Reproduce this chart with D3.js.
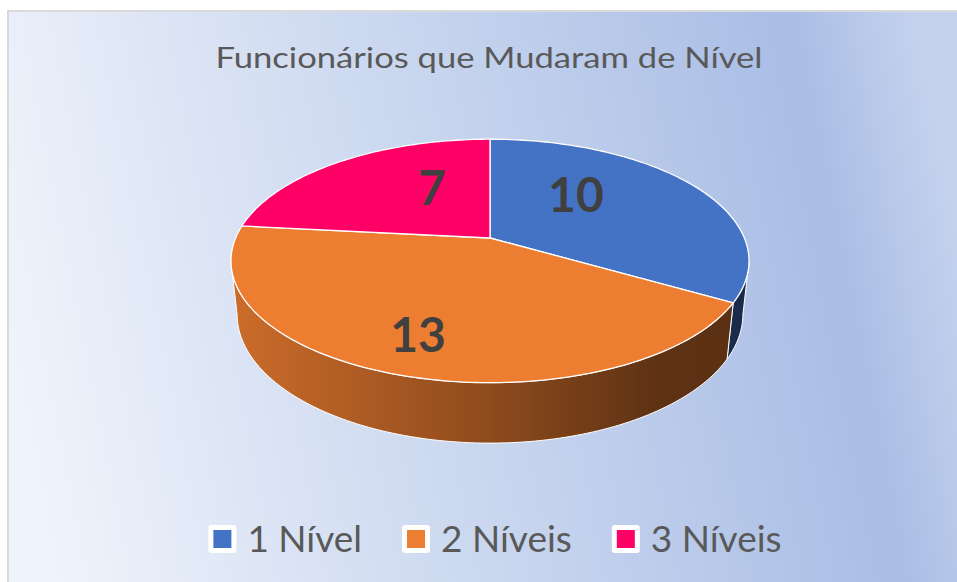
<!DOCTYPE html>
<html>
<head>
<meta charset="utf-8">
<script src="https://cdn.jsdelivr.net/npm/d3@7"></script>
<style>
  html, body { margin: 0; padding: 0; background: #fff; }
  svg { display: block; }
</style>
</head>
<body>
<svg id="chart" width="957" height="582"></svg>
<script>
// chart data
const title = "Funcionários que Mudaram de Nível";
const categories = ["1 Nível", "2 Níveis", "3 Níveis"];
const values = [10, 13, 7];
const colors = ["#4472C4", "#ED7D31", "#FF0066"];

// where each value label sits on the pie top (angle in degrees clockwise from top, radius fraction)
const labelSpots = [[42.7, 0.535], [198.9, 0.755], [331.8, 0.525]];

const width = 957, height = 582;
const svg = d3.select("svg#chart");
svg.selectAll("*").remove();

const defs = svg.append("defs");

// background gradient, like the office "light blue" fill
const bg = defs.append("linearGradient")
    .attr("id", "bgGrad")
    .attr("x1", 0).attr("y1", 0.56).attr("x2", 1).attr("y2", 0.44);
[[0, "#eff3fb"], [0.45, "#cad7ef"], [0.87, "#a9bde5"], [1, "#c4d2ed"]].forEach(([o, c]) =>
    bg.append("stop").attr("offset", o).attr("stop-color", c));

svg.append("rect")
    .attr("x", 8).attr("y", 11)
    .attr("width", width).attr("height", height)
    .attr("fill", "url(#bgGrad)")
    .attr("stroke", "#d9d9d9")
    .attr("stroke-width", 2);

// title
svg.append("text")
    .attr("x", 489).attr("y", 68)
    .attr("text-anchor", "middle")
    .attr("font-family", "Lato, 'Open Sans', sans-serif")
    .attr("font-size", 28)
    .attr("textLength", 547)
    .attr("lengthAdjust", "spacingAndGlyphs")
    .attr("fill", "#595959")
    .text(title);

// --- 3D pie projection ---
const cx = 490, cy = 238;
const focal = 1197;     // px per unit of camera distance
const radius = 0.2125;  // disk radius / camera distance
const tilt = Math.asin(0.4616);
const thick = 0.0507;   // disk thickness / camera distance
const sinT = Math.sin(tilt), cosT = Math.cos(tilt);

// a = angle clockwise from the far side, r = radius, h = height (0 top, negative down)
function project(a, r, h) {
    const u = r * Math.sin(a), v = r * Math.cos(a);
    const depth = 1 + v * cosT - h * sinT;
    return [cx + focal * u / depth, cy - focal * (h * cosT + v * sinT) / depth];
}

const pie = d3.pie().sort(null).value(d => d);
const arcs = pie(values);
const line = d3.line();

function arcPoints(a0, a1, r, h) {
    const n = Math.max(2, Math.ceil((a1 - a0) / 0.02));
    return d3.range(n + 1).map(i => project(a0 + (a1 - a0) * i / n, r, h));
}

function shade(c, f) {
    const col = d3.rgb(c);
    return d3.rgb(col.r * f, col.g * f, col.b * f).formatHex();
}

// side wall gradients
colors.forEach((c, i) => {
    const g = defs.append("linearGradient")
        .attr("id", "side" + i)
        .attr("gradientUnits", "userSpaceOnUse")
        .attr("x1", 231).attr("y1", 0).attr("x2", 749).attr("y2", 0);
    [[0, 0.86], [0.5, 0.6], [0.82, 0.4], [1, 0.38]].forEach(([o, f]) =>
        g.append("stop").attr("offset", o).attr("stop-color", shade(c, f)));
});

// visible front wall range (silhouette angles)
const aS = Math.acos(-radius * cosT);
const aE = 2 * Math.PI - aS;

const walls = arcs.map((d, i) => {
    const a0 = Math.max(d.startAngle, aS), a1 = Math.min(d.endAngle, aE);
    if (a1 <= a0) return null;
    const top = arcPoints(a0, a1, radius, 0);
    const bot = arcPoints(a0, a1, radius, -thick).reverse();
    return { i, pts: top.concat(bot) };
}).filter(Boolean);

svg.append("g").selectAll("path").data(walls)
    .join("path")
    .attr("d", d => line(d.pts) + "Z")
    .attr("fill", d => `url(#side${d.i})`)
    .attr("stroke", "#ffffff")
    .attr("stroke-width", 1)
    .attr("stroke-linejoin", "round");

// top faces
svg.append("g").selectAll("path").data(arcs)
    .join("path")
    .attr("d", d => line([project(0, 0, 0)].concat(arcPoints(d.startAngle, d.endAngle, radius, 0))) + "Z")
    .attr("fill", (d, i) => colors[i])
    .attr("stroke", "#ffffff")
    .attr("stroke-width", 1.3)
    .attr("stroke-linejoin", "round");

// value labels
svg.append("g").selectAll("text").data(arcs)
    .join("text")
    .attr("transform", (d, i) => {
        const [deg, f] = labelSpots[i];
        const p = project(deg * Math.PI / 180, radius * f, 0);
        return `translate(${p[0]},${p[1]})`;
    })
    .attr("text-anchor", "middle")
    .attr("dy", "0.36em")
    .attr("font-family", "Lato, 'Open Sans', sans-serif")
    .attr("font-weight", 700)
    .attr("font-size", 48)
    .attr("fill", "#404040")
    .text(d => d.data);

// legend
const legend = svg.append("g");
const items = legend.selectAll("g").data(categories).join("g");
items.append("rect")
    .attr("x", 0).attr("y", -14)
    .attr("width", 28).attr("height", 28)
    .attr("rx", 3)
    .attr("fill", "#ffffff");
items.append("rect")
    .attr("x", 5).attr("y", -9)
    .attr("width", 18).attr("height", 18)
    .attr("fill", (d, i) => colors[i]);
items.append("text")
    .attr("x", 39)
    .attr("dy", "0.36em")
    .attr("font-family", "Lato, 'Open Sans', sans-serif")
    .attr("font-size", 37)
    .attr("fill", "#595959")
    .text(d => d);

let xPos = 0;
items.each(function () {
    const g = d3.select(this);
    g.attr("transform", `translate(${xPos},0)`);
    const w = g.select("text").node().getComputedTextLength();
    xPos += 39 + w + 40;
});
const legendW = xPos - 40;
legend.attr("transform", `translate(${495 - legendW / 2},539)`);
</script>
</body>
</html>
